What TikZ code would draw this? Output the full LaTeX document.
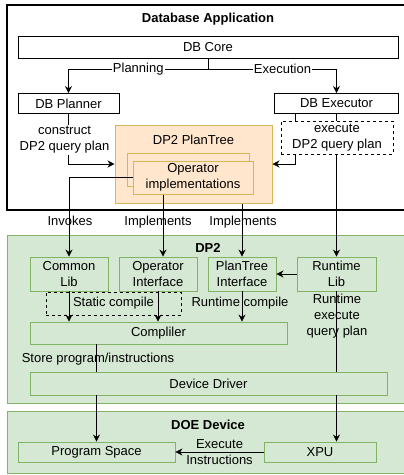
\documentclass[tikz,border=0pt]{standalone}
\usepackage{fontspec}
\setmainfont{Liberation Sans}
\usetikzlibrary{arrows.meta}

\definecolor{dpgreen}{HTML}{D5E8D4}
\definecolor{dpgreenline}{HTML}{82B366}
\definecolor{ptorange}{HTML}{FFE6CC}
\definecolor{ptorangeline}{HTML}{D6B656}

\begin{document}
\begin{tikzpicture}[x=1pt, y=-1pt,
    font=\fontsize{13}{16}\selectfont,
    every node/.style={inner sep=0pt, align=center},
    box/.style={draw, fill=white, line width=0.9pt},
    gbox/.style={draw=dpgreenline, fill=dpgreen, line width=0.9pt},
    obox/.style={draw=ptorangeline, fill=ptorange, line width=1pt},
    dbox/.style={draw, dashed, line width=0.8pt},
    title/.style={font=\fontsize{13}{16}\selectfont\bfseries},
    arr/.style={-{Stealth[length=7pt,width=7pt]}, line width=0.8pt},
    ln/.style={line width=0.8pt}]
    \useasboundingbox (0,0) rectangle (404,475);

    % Database Application
    \draw[line width=1.2pt] (7,5) rectangle (412,210);
    \node[title] (apptitle) at (208,19) {Database Application};
    \node[box, minimum width=380, minimum height=22] (core) at (208,47) {DB Core};
    \node[box, minimum width=101, minimum height=20] (planner) at (68.5,103.5) {DB Planner};
    \node[box, minimum width=124, minimum height=20] (executor) at (336.5,103.5) {DB Executor};
    \coordinate (split) at (208,69);

    \node[obox, minimum width=157, minimum height=78] (plantree) at (193.5,164) {};
    \node (pttitle) at (193.5,140) {DP2 PlanTree};
    \node[obox, minimum width=122, minimum height=33] (opimplback) at (188,169.5) {};
    \node[obox, minimum width=120, minimum height=33] (opimpl) at (193,177.5) {Operator\\implementations};

    % DP2
    \draw[dpgreenline, fill=dpgreen, line width=1pt] (7,235) rectangle (412,403);
    \node[title] (dptitle) at (208,248) {DP2};
    \node[gbox, minimum width=78, minimum height=34] (commonlib) at (69,274) {Common\\Lib};
    \node[gbox, minimum width=78, minimum height=34] (opiface) at (158,274) {Operator\\Interface};
    \node[gbox, minimum width=68, minimum height=34] (ptiface) at (242,274) {PlanTree\\Interface};
    \node[gbox, minimum width=79, minimum height=34] (runtime) at (336.5,274) {Runtime\\Lib};
    \node[dbox, minimum width=135, minimum height=23] (staticlbl) at (113.5,303.5) {Static compile};
    \node[gbox, minimum width=257, minimum height=22] (compiler) at (158.5,333) {Compliler};
    \node[gbox, minimum width=357, minimum height=23] (driver) at (208.5,383.5) {Device Driver};

    % DOE Device
    \draw[dpgreenline, fill=dpgreen, line width=1pt] (7,411) rectangle (412,473);
    \node[title] (doetitle) at (208,425) {DOE Device};
    \node[gbox, minimum width=157, minimum height=20] (progspace) at (96.5,452) {Program Space};
    \node[gbox, minimum width=112, minimum height=20] (xpu) at (320,452) {XPU};

    % connectors
    \draw[arr] (core.south) -- (split) -| node[pos=0.25, fill=white, inner sep=1pt] {Planning} (planner.north);
    \draw[arr] (core.south) -- (split) -| node[pos=0.29, fill=white, inner sep=1pt] {Execution} (executor.north);
    \draw[arr] (planner.south) |- (plantree.west);
    \node[fill=white, inner sep=1pt] (constructlbl) at (64.5,140) {construct\\DP2 query plan};
    \draw[arr] ([xshift=-41.5pt]executor.south) |- (plantree.east);
    \draw[arr] (executor.south) -- (runtime.north);
    \node[dbox, fill=white, minimum width=112, minimum height=33] (executelbl) at (337,137.5) {execute\\DP2 query plan};

    \draw[arr] (opimpl.west) -| (commonlib.north);
    \draw[arr] ([xshift=-30pt]opimpl.south) -- ([xshift=-30pt]opimpl.south |- opiface.north);
    \draw[arr] (plantree.south -| ptiface) -- (ptiface.north);
    \node (invokeslbl) at (70,221) {Invokes};
    \node (impllbla) at (158,222) {Implements};
    \node (impllblb) at (243,222) {Implements};

    \draw[arr] (runtime.west) -- (ptiface.east);
    \draw[arr] (commonlib.south) -- (commonlib.south |- compiler.north);
    \draw[arr] (opiface.south) -- (opiface.south |- compiler.north);
    \draw[arr] (ptiface.south) -- (ptiface.south |- compiler.north);
    \node (rtcompilelbl) at (240,303) {Runtime compile};
    \draw[ln] (runtime.south) -- (runtime.south |- driver.north);
    \node (rtexeclbl) at (337,316.5) {Runtime\\execute\\query plan};
    \draw[ln] (compiler.south -| progspace) -- (progspace |- driver.north);
    \node (storelbl) at (98,359) {Store program/instructions};

    \draw[arr] (progspace |- driver.south) -- (progspace.north);
    \draw[arr] (runtime |- driver.south) -- (runtime |- xpu.north);
    \draw[arr] (xpu.west) -- node (execinstr) {Execute\\Instructions} (progspace.east);
\end{tikzpicture}
\end{document}
